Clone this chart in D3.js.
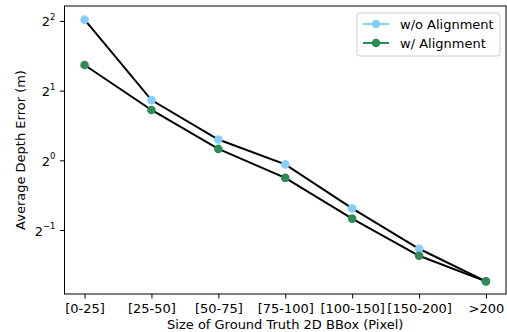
<html>
<head>
<script src="https://d3js.org/d3.v7.min.js"></script>
<style>
  body { margin: 0; background: #fff; }
  svg text { font-family: "DejaVu Sans", sans-serif; fill: #000; }
</style>
</head>
<body>
<script>
// data
var categories = ["[0-25]", "[25-50]", "[50-75]", "[75-100]", "[100-150]", "[150-200]", ">200"];
var withoutAlign = [4.05, 1.82, 1.23, 0.96, 0.62, 0.415, 0.30];
var withAlign = [2.58, 1.65, 1.12, 0.84, 0.56, 0.387, 0.30];
var yTickExps = [-1, 0, 1, 2];

var W = 507, H = 332;
// plot area (note: "top" is taken by window.top, so prefix names)
var pLeft = 64.5, pRight = 506, pTop = 6, pBottom = 294;

var svg = d3.select("body").append("svg")
   .attr("width", W).attr("height", H);

var x = d3.scaleLinear().domain([-0.3, 6.3]).range([pLeft, pRight]);
var y = d3.scaleLog().base(2).domain([Math.pow(2, -1.918), Math.pow(2, 2.214)]).range([pBottom, pTop]);

// x axis
var xAxis = d3.axisBottom(x)
   .tickValues(d3.range(categories.length))
   .tickFormat(function(i) { return categories[i]; })
   .tickSize(4.5).tickPadding(5.5);
var gx = svg.append("g").attr("transform", "translate(0," + pBottom + ")").call(xAxis);
gx.select(".domain").remove();
gx.selectAll("text").style("font-size", "13px").style("font-family", "DejaVu Sans").attr("fill", "#000");
gx.selectAll("line").attr("stroke", "#000").attr("stroke-width", 1);

// y axis with power-of-two labels
var yAxis = d3.axisLeft(y)
   .tickValues(yTickExps.map(function(e) { return Math.pow(2, e); }))
   .tickFormat("")
   .tickSize(4.5);
var gy = svg.append("g").attr("transform", "translate(" + pLeft + ",0)").call(yAxis);
gy.select(".domain").remove();
gy.selectAll("line").attr("stroke", "#000").attr("stroke-width", 1);

yTickExps.forEach(function(e) {
   var t = svg.append("text")
      .attr("x", pLeft - 9).attr("y", y(Math.pow(2, e)) + 5.5)
      .attr("text-anchor", "end")
      .style("font-size", "13px");
   t.append("tspan").text("2");
   t.append("tspan").attr("dy", -6.5).style("font-size", "8.5px")
      .text(e < 0 ? "\u2212" + (-e) : String(e));
});

// frame
svg.append("rect")
   .attr("x", pLeft).attr("y", pTop)
   .attr("width", pRight - pLeft).attr("height", pBottom - pTop)
   .attr("fill", "none").attr("stroke", "#000").attr("stroke-width", 1);

var series = [
   { name: "w/o Alignment", values: withoutAlign, color: "#87cefa" },
   { name: "w/ Alignment", values: withAlign, color: "#2e8b57" }
];

var line = d3.line()
   .x(function(d, i) { return x(i); })
   .y(function(d) { return y(d); });

series.forEach(function(s) {
   svg.append("path")
      .datum(s.values)
      .attr("d", line)
      .attr("fill", "none")
      .attr("stroke", "#000")
      .attr("stroke-width", 2);
});
series.forEach(function(s) {
   svg.selectAll(null)
      .data(s.values)
      .enter().append("circle")
      .attr("cx", function(d, i) { return x(i); })
      .attr("cy", function(d) { return y(d); })
      .attr("r", 4.3)
      .attr("fill", s.color);
});

// axis titles
svg.append("text")
   .attr("x", (pLeft + pRight) / 2).attr("y", 328.5)
   .attr("text-anchor", "middle")
   .style("font-size", "13px")
   .text("Size of Ground Truth 2D BBox (Pixel)");

svg.append("text")
   .attr("transform", "translate(24.5," + ((pTop + pBottom) / 2) + ") rotate(-90)")
   .attr("text-anchor", "middle")
   .style("font-size", "13px")
   .text("Average Depth Error (m)");

// legend
var lg = svg.append("g");
lg.append("rect")
   .attr("x", 357).attr("y", 13).attr("width", 143).attr("height", 43)
   .attr("rx", 3)
   .attr("fill", "#fff").attr("fill-opacity", 0.8)
   .attr("stroke", "#ccc").attr("stroke-width", 1);
series.forEach(function(s, i) {
   var ly = 24 + i * 19;
   lg.append("line")
      .attr("x1", 363).attr("x2", 389).attr("y1", ly).attr("y2", ly)
      .attr("stroke", s.color).attr("stroke-width", 2);
   lg.append("circle").attr("cx", 376).attr("cy", ly).attr("r", 4.3).attr("fill", s.color);
   lg.append("text")
      .attr("x", 400).attr("y", ly + 4.5)
      .style("font-size", "13px")
      .text(s.name);
});
</script>
</body>
</html>
